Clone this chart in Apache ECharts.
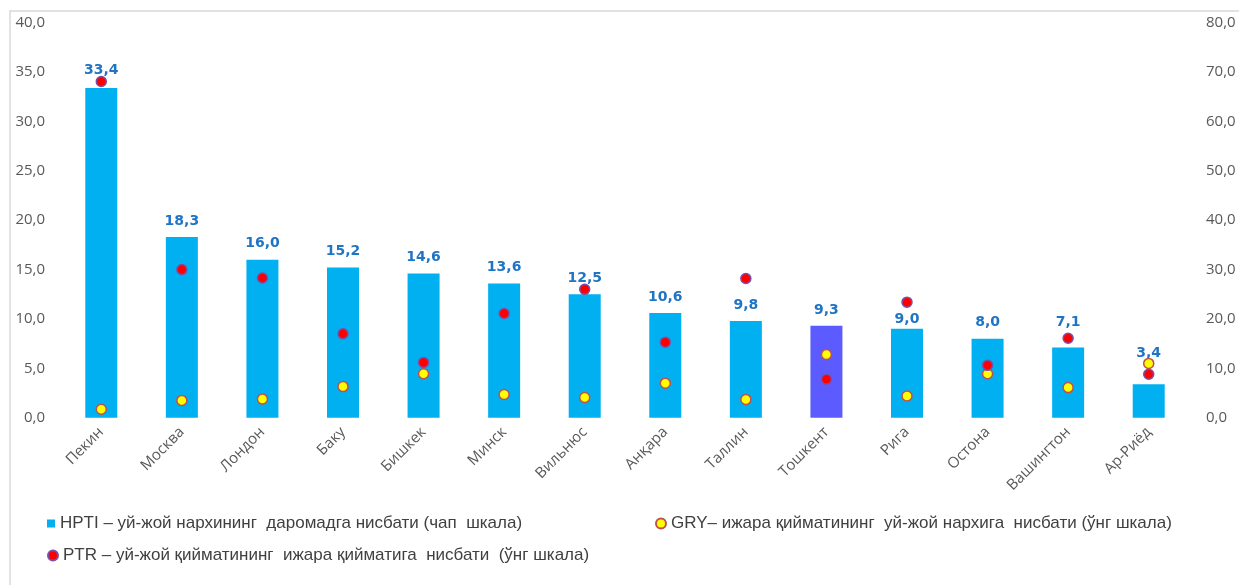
<!DOCTYPE html>
<html>
<head>
<meta charset="utf-8">
<script src="https://cdn.jsdelivr.net/npm/echarts@6/dist/echarts.min.js"></script>
<style>
  html, body { margin: 0; padding: 0; background: #ffffff; }
  #chart { width: 1239px; height: 585px; }
</style>
</head>
<body>
<div id="chart"></div>
<script>
// Cities along the horizontal axis
const cities = ['Пекин', 'Москва', 'Лондон', 'Баку', 'Бишкек', 'Минск', 'Вильнюс',
  'Анқара', 'Таллин', 'Тошкент', 'Рига', 'Остона', 'Вашингтон', 'Ар-Риёд'];

// HPTI – price to income ratio (left scale)
const hpti = [33.4, 18.3, 16.0, 15.2, 14.6, 13.6, 12.5, 10.6, 9.8, 9.3, 9.0, 8.0, 7.1, 3.4];

// GRY – gross rental yield (right scale)
const gry = [1.7, 3.5, 3.8, 6.3, 8.9, 4.7, 4.1, 7.0, 3.7, 12.8, 4.4, 8.9, 6.1, 11.0];

// PTR – price to rent ratio (right scale)
const ptr = [68.1, 30.0, 28.3, 17.0, 11.2, 21.1, 26.0, 15.3, 28.2, 7.8, 23.4, 10.6, 16.1, 8.8];

const highlightCity = 'Тошкент';

// value labels nudged so they stay clear of the markers
const labelNudge = { 'Пекин': -2, 'Рига': 7, 'Вашингтон': -9, 'Ар-Риёд': -15 };

const names = {
  hpti: 'HPTI – уй-жой нархининг  даромадга нисбати (чап  шкала)',
  gry: 'GRY– ижара қийматининг  уй-жой нархига  нисбати (ўнг шкала)',
  ptr: 'PTR – уй-жой қийматининг  ижара қийматига  нисбати  (ўнг шкала)'
};

const fmt = v => v.toFixed(1).replace('.', ',');

const axisFont = { color: '#595959', fontSize: 15, fontFamily: 'Open Sans' };
const legendText = { color: '#404040', fontSize: 17, fontFamily: 'Liberation Sans' };

const chart = echarts.init(document.getElementById('chart'), null, { renderer: 'canvas' });

chart.setOption({
  backgroundColor: '#ffffff',
  animation: false,
  graphic: [{
    type: 'rect',
    shape: { x: 10, y: 11, width: 1300, height: 700 },
    style: { fill: 'none', stroke: '#D9D9D9', lineWidth: 1.5 },
    silent: true, z: -10
  }],
  grid: { left: 61, right: 50, top: 22.7, bottom: 167.3 },
  legend: [
    { data: [{ name: names.hpti, icon: 'rect' }], left: 42, top: 510, itemWidth: 8, itemHeight: 8, itemGap: 6, textStyle: legendText },
    { data: [{ name: names.gry, icon: 'circle' }], left: 650, top: 510, itemWidth: 10, itemHeight: 10, textStyle: legendText },
    { data: [{ name: names.ptr, icon: 'circle' }], left: 42, top: 542, itemWidth: 10, itemHeight: 10, textStyle: legendText }
  ],
  xAxis: {
    type: 'category',
    data: cities,
    axisLine: { show: false },
    axisTick: { show: false },
    axisLabel: Object.assign({ rotate: 45, margin: 12, interval: 0 }, axisFont)
  },
  yAxis: [
    {
      type: 'value', min: 0, max: 40, interval: 5,
      splitLine: { show: false }, axisLine: { show: false }, axisTick: { show: false },
      axisLabel: Object.assign({ margin: 16, formatter: fmt }, axisFont)
    },
    {
      type: 'value', min: 0, max: 80, interval: 10,
      splitLine: { show: false }, axisLine: { show: false }, axisTick: { show: false },
      axisLabel: Object.assign({ margin: 17, formatter: fmt }, axisFont)
    }
  ],
  series: [
    {
      name: names.hpti,
      type: 'bar',
      barWidth: 32,
      yAxisIndex: 0,
      itemStyle: { color: '#00B0F0' },
      data: hpti.map((v, i) => {
        const item = { value: v };
        if (cities[i] === highlightCity) item.itemStyle = { color: '#5B5BFF' };
        if (labelNudge[cities[i]] !== undefined) item.label = { offset: [0, labelNudge[cities[i]]] };
        return item;
      }),
      label: {
        show: true, position: 'top', distance: 9,
        formatter: p => fmt(p.value),
        color: '#1F74C4', fontWeight: 'bold', fontSize: 14, fontFamily: 'DejaVu Sans'
      },
      z: 2
    },
    {
      name: names.gry,
      type: 'scatter',
      yAxisIndex: 1,
      symbol: 'circle',
      symbolSize: 10,
      itemStyle: { color: '#FFFF00', borderColor: '#C0504D', borderWidth: 1.5, opacity: 1 },
      data: gry,
      z: 3
    },
    {
      name: names.ptr,
      type: 'scatter',
      yAxisIndex: 1,
      symbol: 'circle',
      symbolSize: 10,
      itemStyle: { color: '#FF0000', borderColor: '#7B4FA8', borderWidth: 1.5, opacity: 1 },
      data: ptr,
      z: 3
    }
  ]
});
</script>
</body>
</html>
